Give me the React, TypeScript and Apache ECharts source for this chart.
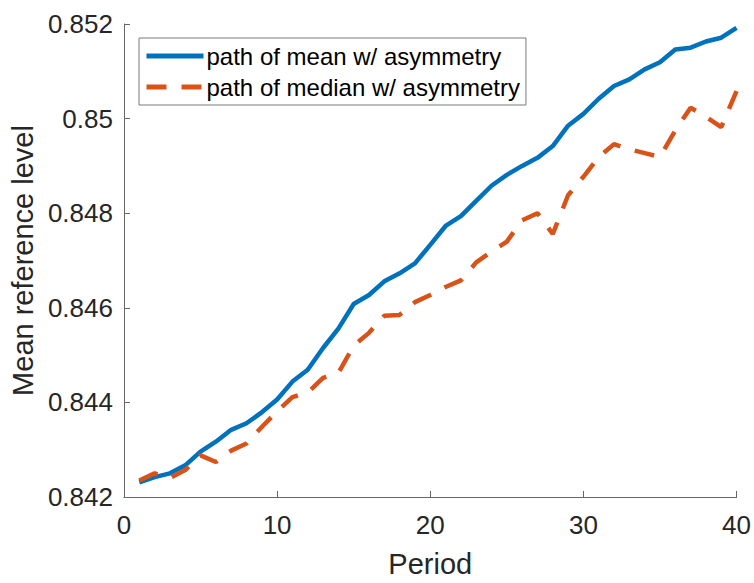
import * as echarts from "echarts";
import { useEffect, useRef } from "react";

const periods = Array.from({ length: 40 }, (_, i) => i + 1);

const meanPath = [
  0.84231, 0.84242, 0.8425, 0.84267, 0.84296, 0.84317, 0.84342, 0.84356, 0.84379, 0.84406,
  0.84444, 0.84469, 0.84515, 0.84556, 0.84608, 0.84627, 0.84656, 0.84673, 0.84694, 0.84733,
  0.84773, 0.84794, 0.84826, 0.84858, 0.84881, 0.849, 0.84917, 0.84942, 0.84985, 0.8501,
  0.85042, 0.85069, 0.85083, 0.85104, 0.85119, 0.85146, 0.8515, 0.85163, 0.85171, 0.85192,
];

const medianPath = [
  0.84235, 0.8425, 0.8424, 0.84257, 0.84288, 0.84274, 0.84298, 0.84313, 0.84348, 0.84381,
  0.84411, 0.84421, 0.84452, 0.84462, 0.8452, 0.84547, 0.84583, 0.84585, 0.84612, 0.84627,
  0.84644, 0.84658, 0.84696, 0.84719, 0.8474, 0.84785, 0.848, 0.84756, 0.84838, 0.84877,
  0.84919, 0.84946, 0.84935, 0.84927, 0.84919, 0.84975, 0.85023, 0.85004, 0.84982, 0.85058,
];

const seriesNames = ["path of mean w/ asymmetry", "path of median w/ asymmetry"];

const textColor = "#262626";
const axisColor = "#666666";

export default function App() {
  const chartRef = useRef<HTMLDivElement>(null);

  useEffect(() => {
    if (!chartRef.current) return;
    const chart = echarts.init(chartRef.current, null, { renderer: "svg" });

    const option: echarts.EChartsOption = {
      animation: false,
      backgroundColor: "#ffffff",
      textStyle: { fontFamily: "Liberation Sans, Arial, sans-serif" },
      grid: { left: 123, top: 24, right: 15, bottom: 80, containLabel: false },
      legend: {
        orient: "vertical",
        left: 139,
        top: 38,
        padding: [5, 6, 5, 5],
        itemWidth: 57,
        itemHeight: 20,
        itemGap: 5,
        itemStyle: { opacity: 0 },
        backgroundColor: "#ffffff",
        borderColor: "#7a7a7a",
        borderWidth: 1,
        borderRadius: 0,
        textStyle: { fontSize: 24, color: "#000000", lineHeight: 26, padding: [0, 0, 0, -2] },
        data: [
          { name: seriesNames[0], lineStyle: { width: 5 } },
          { name: seriesNames[1], lineStyle: { width: 5 } },
        ],
      },
      xAxis: {
        type: "value",
        min: 0,
        max: 40,
        interval: 10,
        name: "Period",
        nameLocation: "middle",
        nameGap: 52,
        nameTextStyle: { fontSize: 29, color: textColor },
        axisLine: { lineStyle: { color: axisColor, width: 1 } },
        axisTick: { inside: true, length: 6, lineStyle: { color: axisColor } },
        axisLabel: { fontSize: 26, color: textColor, margin: 15 },
        splitLine: { show: false },
      },
      yAxis: {
        type: "value",
        min: 0.842,
        max: 0.852,
        interval: 0.002,
        name: "Mean reference level",
        nameLocation: "middle",
        nameGap: 84,
        nameTextStyle: { fontSize: 29, color: textColor },
        axisLine: { show: true, lineStyle: { color: axisColor, width: 1 } },
        axisTick: { show: true, inside: true, length: 6, lineStyle: { color: axisColor } },
        axisLabel: { fontSize: 26, color: textColor, margin: 11 },
        splitLine: { show: false },
      },
      series: [
        {
          name: seriesNames[0],
          type: "line",
          data: periods.map((p, i) => [p, meanPath[i]]),
          showSymbol: false,
          symbol: "none",
          color: "#0072BD",
          lineStyle: { color: "#0072BD", width: 4.5, join: "round" },
        },
        {
          name: seriesNames[1],
          type: "line",
          data: periods.map((p, i) => [p, medianPath[i]]),
          showSymbol: false,
          symbol: "none",
          color: "#D95319",
          lineStyle: { color: "#D95319", width: 4.5, type: [20, 15], cap: "butt" },
        },
      ],
    };

    chart.setOption(option);
    return () => chart.dispose();
  }, []);

  return (
    <div
      ref={chartRef}
      style={{ position: "absolute", left: 0, top: 0, width: 754, height: 583 }}
    />
  );
}
